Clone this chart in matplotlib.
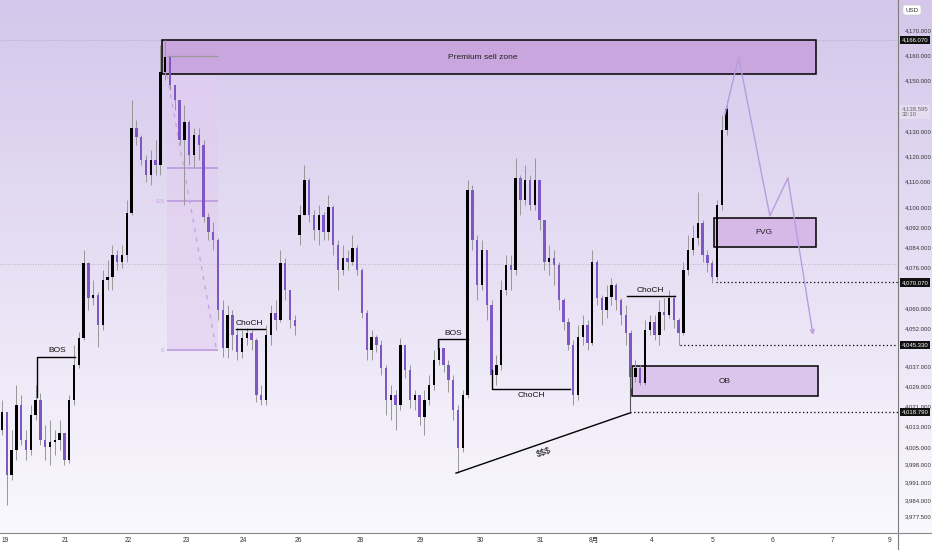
import numpy as np
import matplotlib
matplotlib.use('Agg')
import matplotlib.pyplot as plt
from matplotlib.lines import Line2D
from matplotlib.patches import Rectangle
import matplotlib.transforms as mtransforms

plt.rcParams['font.family'] = ['Liberation Sans', 'Noto Sans CJK JP']

# hourly-ish candles (price units)
first_open = 4011.6
gap_opens = {62: 4088.8}  # weekend gap open

closes = [
    4018.7, 3993.8, 4003.7, 4021.5, 4007.7, 4003.7, 4017.6, 4023.5, 4007.7, 4004.9,
    4006.9, 4007.7, 4010.4, 3999.7, 4023.5, 4037.4, 4048.1, 4077.8, 4063.9, 4065.1,
    4053.2, 4071.0, 4072.2, 4080.9, 4078.1, 4080.9, 4097.6, 4131.2, 4127.6, 4118.6,
    4112.6, 4118.6, 4116.6, 4153.4, 4159.3, 4148.2, 4142.3, 4126.5, 4133.6, 4120.5,
    4128.4, 4124.5, 4096.0, 4090.0, 4086.9, 4059.1, 4044.1, 4057.2, 4049.2, 4042.5,
    4048.1, 4050.0, 4047.3, 4025.5, 4023.5, 4049.2, 4057.9, 4055.2, 4077.8, 4067.1,
    4055.2, 4052.8, 4096.8, 4110.6, 4096.8, 4090.8, 4096.8, 4090.0, 4099.9, 4084.9,
    4075.0, 4079.7, 4078.1, 4083.7, 4075.0, 4057.9, 4043.3, 4048.4, 4045.3, 4036.2,
    4023.5, 4025.5, 4021.5, 4045.3, 4035.4, 4023.5, 4025.5, 4016.8, 4023.5, 4029.4,
    4039.4, 4044.1, 4037.4, 4031.4, 4019.6, 4004.5, 4025.5, 4106.7, 4086.9, 4069.1,
    4082.9, 4061.1, 4033.4, 4037.4, 4067.1, 4077.0, 4075.0, 4111.4, 4102.7, 4110.6,
    4100.7, 4110.6, 4094.8, 4078.1, 4079.7, 4077.0, 4063.1, 4054.4, 4045.3, 4025.5,
    4048.4, 4053.2, 4046.1, 4078.1, 4063.9, 4059.1, 4064.3, 4069.1, 4063.1, 4057.2,
    4050.0, 4032.6, 4036.2, 4030.2, 4051.2, 4054.4, 4049.2, 4058.3, 4057.2, 4063.9,
    4055.2, 4050.0, 4075.0, 4082.9, 4087.7, 4093.6, 4080.9, 4077.8, 4072.2, 4100.7,
    4130.4, 4138.6]

highs = [
    4023.5, 4005.7, 4011.6, 4029.4, 4025.5, 4011.6, 4021.5, 4029.4, 4026.3, 4013.6,
    4015.6, 4011.6, 4015.6, 4009.6, 4025.5, 4045.3, 4050.4, 4082.9, 4078.1, 4071.0,
    4066.3, 4075.0, 4079.0, 4084.9, 4082.9, 4084.9, 4102.7, 4142.3, 4134.4, 4128.4,
    4120.5, 4122.5, 4126.5, 4164.1, 4166.0, 4159.3, 4148.2, 4142.3, 4140.3, 4134.4,
    4131.2, 4131.2, 4126.5, 4097.6, 4094.0, 4087.7, 4063.1, 4061.1, 4059.1, 4052.0,
    4051.2, 4052.0, 4051.2, 4048.1, 4029.4, 4053.2, 4061.1, 4063.1, 4082.9, 4079.7,
    4067.1, 4057.2, 4100.7, 4116.6, 4111.4, 4098.7, 4100.7, 4098.0, 4104.7, 4100.7,
    4086.9, 4084.9, 4082.9, 4088.8, 4084.9, 4075.8, 4059.1, 4051.2, 4049.2, 4047.3,
    4037.4, 4029.4, 4027.5, 4048.1, 4045.3, 4037.4, 4027.5, 4025.5, 4027.5, 4033.4,
    4043.3, 4047.3, 4044.1, 4039.4, 4033.4, 4021.5, 4027.5, 4110.6, 4108.7, 4088.8,
    4086.9, 4082.9, 4063.1, 4041.3, 4071.0, 4080.9, 4080.9, 4119.3, 4112.6, 4116.6,
    4112.6, 4119.3, 4110.6, 4094.8, 4084.9, 4082.9, 4078.1, 4063.9, 4056.0, 4047.3,
    4053.2, 4057.2, 4055.2, 4082.9, 4079.0, 4065.1, 4069.1, 4071.8, 4069.8, 4063.9,
    4061.1, 4051.2, 4039.4, 4037.4, 4055.2, 4057.2, 4057.2, 4063.1, 4063.9, 4067.1,
    4065.1, 4056.0, 4078.1, 4088.8, 4092.8, 4105.9, 4094.8, 4082.9, 4079.0, 4102.7,
    4136.4, 4142.3]

lows = [
    4009.6, 3981.9, 3991.8, 3999.7, 4005.7, 3999.7, 4001.7, 4015.6, 4005.7, 3999.7,
    3997.8, 4001.7, 4003.7, 3997.8, 3998.6, 4021.5, 4036.2, 4047.3, 4059.1, 4061.1,
    4044.5, 4051.2, 4067.1, 4067.1, 4075.0, 4075.8, 4078.1, 4096.8, 4124.5, 4116.6,
    4109.8, 4108.6, 4112.6, 4112.6, 4150.2, 4146.3, 4138.3, 4124.5, 4100.7, 4116.6,
    4115.4, 4118.6, 4094.0, 4086.9, 4082.9, 4055.2, 4040.5, 4040.1, 4043.3, 4039.4,
    4040.1, 4045.3, 4043.3, 4022.7, 4021.5, 4021.5, 4045.3, 4051.2, 4054.4, 4063.1,
    4052.0, 4049.2, 4084.9, 4096.8, 4094.0, 4086.9, 4084.9, 4086.9, 4086.9, 4080.9,
    4067.1, 4073.0, 4075.0, 4077.0, 4073.0, 4056.0, 4039.4, 4039.4, 4042.5, 4033.4,
    4017.6, 4015.6, 4011.6, 4019.6, 4032.2, 4020.3, 4019.6, 4013.6, 4009.6, 4021.5,
    4027.5, 4037.4, 4034.6, 4026.7, 4015.6, 3994.6, 4002.9, 4024.3, 4082.9, 4063.1,
    4067.1, 4055.2, 4031.4, 4029.4, 4035.4, 4065.1, 4067.1, 4073.0, 4096.8, 4100.7,
    4098.7, 4098.7, 4090.8, 4075.0, 4073.0, 4069.1, 4059.1, 4051.2, 4043.3, 4021.5,
    4023.5, 4045.3, 4043.3, 4045.3, 4061.1, 4053.2, 4056.0, 4061.1, 4059.1, 4053.2,
    4045.3, 4028.3, 4030.6, 4029.4, 4029.4, 4049.2, 4047.3, 4045.3, 4051.2, 4056.0,
    4052.0, 4045.3, 4049.2, 4073.0, 4080.9, 4084.9, 4078.1, 4074.2, 4069.8, 4071.0,
    4098.7, 4128.4]

# axis labels
day_pos = [0.6, 13.3, 26.25, 38.5, 50.2, 61.7, 74.6, 87.1, 99.6, 112.1, 123.3, 135.4, 148.1, 160.6, 173.1, 185.0]
day_labels = ['19', '21', '22', '23', '24', '26', '28', '29', '30', '31', '8月', '4', '5', '6', '7', '9']
price_ticks = [4170, 4160, 4150, 4130, 4120, 4110, 4100, 4092, 4084, 4076, 4060, 4052,
               4037, 4029, 4021, 4013, 4005, 3998, 3991, 3984, 3977.5]
marked_levels = [4166.07, 4070.07, 4045.33, 4018.79]
last_price = 4138.595

# drawn zones / levels
premium_zone = (33.3, 169.6, 4152.6, 4166.07)
fvg_zone = (148.3, 169.6, 4084.1, 4095.6)
ob_zone = (131.25, 170.0, 4025.1, 4037.0)
fib_span = (34.4, 45.0)
fib_levels = {'1': 4159.7, '0.618': 4115.5, '0.5': 4102.3, '0': 4043.3}
proj_x = [150.6, 153.5, 160.0, 163.75, 169.0]
proj_y = [4136.4, 4159.3, 4096.4, 4111.4, 4049.3]

closes = np.array(closes)
opens = np.r_[first_open, closes[:-1]]
for k, v in gap_opens.items():
    opens[k] = v
highs = np.maximum(np.array(highs), np.maximum(opens, closes))
lows = np.minimum(np.array(lows), np.minimum(opens, closes))
x = np.arange(len(closes))

fig = plt.figure(figsize=(9.32, 5.5), dpi=100)

# background gradient
bg = fig.add_axes([0, 0, 1, 1], zorder=-10)
bg.axis('off')
t = np.linspace(0, 1, 256)[:, None, None]
top = np.array([212, 199, 235]) / 255
bottom = np.array([251, 250, 254]) / 255
bg.imshow(top * (1 - t) + bottom * t, aspect='auto', extent=[0, 1, 0, 1], origin='upper')
bg.add_patch(Rectangle((0, 0), 1, 17 / 550, color='white'))
bg.set_xlim(0, 1)
bg.set_ylim(0, 1)

ax = fig.add_axes([0, 17 / 550, 898 / 932, 533 / 550])
ax.patch.set_alpha(0)
for s in ax.spines.values():
    s.set_visible(False)
ax.set_xlim(-0.42, 186.7)
ax.set_ylim(3970.9, 4181.9)

fig.add_artist(Line2D([898 / 932] * 2, [0, 1], transform=fig.transFigure, color='#7d7d7d', lw=0.8))
fig.add_artist(Line2D([0, 1], [17 / 550] * 2, transform=fig.transFigure, color='#8a8a8a', lw=0.8))

# candles
up = closes >= opens
body = closes - opens
body = np.where(np.abs(body) < 0.3, np.where(up, 0.3, -0.3), body)
ax.vlines(x, lows, highs, color='#979797', lw=0.7, zorder=3)
ax.bar(x[up], body[up], bottom=opens[up], width=0.5, color='black', zorder=4)
ax.bar(x[~up], body[~up], bottom=opens[~up], width=0.5, color='#7e57c2', zorder=4)

# horizontal reference lines
for lvl in [4166.07, 4077.5]:
    ax.axhline(lvl, color='#a8a8a8', lw=0.6, ls=(0, (1, 2)), zorder=1)
ax.hlines(4070.07, 148.8, 186.7, color='black', lw=0.9, ls=(0, (1, 2)), zorder=2)
ax.hlines(4045.33, 141.3, 186.7, color='black', lw=0.9, ls=(0, (1, 2)), zorder=2)
ax.hlines(4018.79, 130.8, 186.7, color='black', lw=0.9, ls=(0, (1, 2)), zorder=2)

# zones
def zone(z, fc, label, lx, ly):
    x0, x1, y0, y1 = z
    ax.add_patch(Rectangle((x0, y0), x1 - x0, y1 - y0, fc=fc, ec='black', lw=1.1, zorder=2))
    ax.text(lx, ly, label, fontsize=6, ha='center', va='center', color='#222222', zorder=6)

zone(premium_zone, '#c9a6dd', 'Premium sell zone', 100.2, 4159.3)
zone(fvg_zone, '#d6b9e7', 'FVG', 158.75, 4089.8)
zone(ob_zone, '#dcc5ec', 'OB', 150.6, 4031.0)

# fib retracement
f0, f1 = fib_span
ax.add_patch(Rectangle((f0, fib_levels['0']), f1 - f0, fib_levels['1'] - fib_levels['0'],
                       fc='#e2cdf0', ec='none', alpha=0.55, zorder=1))
ax.hlines(fib_levels['1'], f0, f1, color='#9a9a9a', lw=0.9, zorder=2)
for key in ['0.618', '0.5', '0']:
    ax.hlines(fib_levels[key], f0, f1, color='#b993dc', lw=1.1, zorder=2)
ax.text(f0 - 0.6, fib_levels['0.5'], '0.5', fontsize=4.5, color='#c49ee2', ha='right', va='center')
ax.text(f0 - 0.6, fib_levels['0'], '0', fontsize=4.5, color='#c49ee2', ha='right', va='center')
ax.plot([34.4, 44.6], [4152.2, 4044.1], color='#c9a3e6', lw=1.0, ls=(0, (3, 4)), zorder=2)

# structure marks
line_kw = dict(color='black', lw=1.0, zorder=5)
txt_kw = dict(fontsize=6, ha='center', color='#111111', zorder=6)
ax.plot([7.3, 7.3, 15.2], [4024.7, 4040.6, 4040.6], **line_kw)
ax.text(11.5, 4041.6, 'BOS', va='bottom', **txt_kw)
ax.plot([48.75, 54.8], [4051.7, 4051.7], **line_kw)
ax.text(51.5, 4052.6, 'ChoCH', va='bottom', **txt_kw)
ax.plot([90.8, 90.8, 97.1], [4043.7, 4047.7, 4047.7], **line_kw)
ax.text(94.0, 4048.6, 'BOS', va='bottom', **txt_kw)
ax.plot([102.1, 102.1, 118.3], [4035.4, 4027.9, 4027.9], **line_kw)
ax.text(110.4, 4026.6, 'ChoCH', va='top', **txt_kw)
ax.plot([130.2, 140.2], [4064.7, 4064.7], **line_kw)
ax.text(135.0, 4065.6, 'ChoCH', va='bottom', **txt_kw)
ax.plot([94.6, 130.8], [3994.6, 4018.4], **line_kw)
ax.plot([130.8, 130.8], [4018.4, 4036.6], color='#555555', lw=0.8, zorder=5)
ax.text(112.9, 4003.0, r'\$\$\$', rotation=19, va='center', fontsize=6.5, ha='center',
        color='#111111', zorder=6)

# projected path
ax.plot(proj_x[:-1], proj_y[:-1], color='#b89ddc', lw=1.0, zorder=5)
ax.annotate('', xy=(proj_x[-1], proj_y[-1]), xytext=(proj_x[-2], proj_y[-2]),
            arrowprops=dict(arrowstyle='->', color='#b89ddc', lw=1.0, shrinkA=0, shrinkB=0,
                            mutation_scale=7), zorder=5)

# axes ticks
ax.set_xticks(day_pos, day_labels)
ax.tick_params(axis='x', length=0, pad=3, labelsize=4.8, labelcolor='#333333')
ax.yaxis.tick_right()
ax.set_yticks(price_ticks, [f'{v:,.3f}' for v in price_ticks])
ax.tick_params(axis='y', length=0, pad=5, labelsize=4.3, labelcolor='#333333')

trans = mtransforms.blended_transform_factory(ax.transAxes, ax.transData)
for lvl in marked_levels:
    ax.text(1.004, lvl, f'{lvl:,.3f}', transform=trans, fontsize=4.3, color='white',
            ha='left', va='center', clip_on=False, zorder=10,
            bbox=dict(boxstyle='square,pad=0.3', fc='#111111', ec='none'))
ax.text(1.004, last_price + 1.2, f'{last_price:,.3f}\n32:10', transform=trans, fontsize=4.3,
        color='#666666', ha='left', va='top', clip_on=False, zorder=10, linespacing=1.1,
        bbox=dict(boxstyle='square,pad=0.3', fc='#e6ddf1', ec='none'))

fig.text(912 / 932, 1 - 10 / 550, 'USD', fontsize=4.5, ha='center', va='center', color='#333333',
         bbox=dict(boxstyle='round,pad=0.4', fc='white', ec='#cccccc', lw=0.5))

fig.savefig('out.png', dpi=100)
